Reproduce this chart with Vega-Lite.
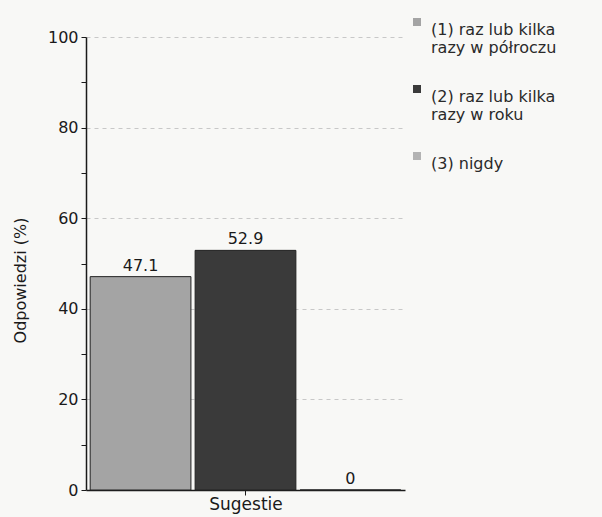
{
  "$schema": "https://vega.github.io/schema/vega-lite/v6.json",
  "width": 319,
  "height": 453,
  "autosize": {"type": "none"},
  "padding": {"left": 86, "top": 37, "right": 197, "bottom": 27},
  "background": "#f8f8f6",
  "config": {
    "view": {"stroke": null},
    "font": "DejaVu Sans",
    "axis": {"labelFont": "DejaVu Sans", "titleFont": "DejaVu Sans", "domainColor": "#1a1a1a", "tickColor": "#1a1a1a", "labelColor": "#1a1a1a", "titleColor": "#1a1a1a", "titleFontWeight": "normal"}
  },
  "data": {
    "values": [
      {"grupa": "Sugestie", "kat": "(1) raz lub kilka razy w półroczu", "procent": 47.1},
      {"grupa": "Sugestie", "kat": "(2) raz lub kilka razy w roku", "procent": 52.9},
      {"grupa": "Sugestie", "kat": "(3) nigdy", "procent": 0}
    ]
  },
  "encoding": {
    "x": {
      "field": "grupa",
      "type": "nominal",
      "scale": {"paddingOuter": 0.01, "paddingInner": 0},
      "axis": {"title": "Sugestie", "labels": false, "titleFontSize": 17, "titlePadding": 1, "tickSize": 5, "domainWidth": 1.5}
    },
    "xOffset": {
      "field": "kat",
      "type": "nominal",
      "scale": {"paddingInner": 0.04, "paddingOuter": 0.01}
    },
    "y": {
      "field": "procent",
      "type": "quantitative",
      "scale": {"domain": [0, 100], "nice": false},
      "axis": {
        "title": "Odpowiedzi (%)",
        "titleFontSize": 16,
        "titleY": 243,
        "titleX": -58,
        "values": [0, 10, 20, 30, 40, 50, 60, 70, 80, 90, 100],
        "labelExpr": "datum.value % 20 == 0 ? datum.label : ''",
        "labelFontSize": 16,
        "labelPadding": 3,
        "tickSize": 5,
        "domainWidth": 1.5,
        "grid": true,
        "gridDash": [4, 4],
        "gridColor": "#c8c8c8",
        "gridOpacity": {"condition": {"test": "datum.value % 20 == 0 && datum.value > 0", "value": 1}, "value": 0}
      }
    }
  },
  "layer": [
    {
      "mark": {"type": "bar", "stroke": "#222222", "strokeWidth": 1},
      "encoding": {
        "color": {
          "field": "kat",
          "type": "nominal",
          "scale": {"range": ["#a4a4a4", "#3a3a3a", "#b3b3b3"]},
          "legend": {
            "title": null,
            "orient": "none",
            "legendX": 323,
            "legendY": -23,
            "symbolType": "square",
            "symbolSize": 64,
            "symbolStrokeWidth": 0,
            "labelFontSize": 16,
            "labelColor": "#2a2a2a",
            "labelBaseline": "top",
            "labelOffset": 6,
            "labelLimit": 200,
            "rowPadding": 25,
            "labelExpr": "indexof(datum.label,' razy') > 0 ? [' ' + substring(datum.label, 0, indexof(datum.label,' razy')), substring(datum.label, indexof(datum.label,' razy') + 1)] : ' ' + datum.label",
            "encode": {"labels": {"update": {"dy": {"value": -15}, "lineHeight": {"value": 20}}}}
          }
        }
      }
    },
    {
      "mark": {"type": "text", "dy": -11, "fontSize": 16, "color": "#1a1a1a", "font": "DejaVu Sans"},
      "encoding": {
        "text": {"field": "procent", "type": "quantitative"}
      }
    }
  ]
}
